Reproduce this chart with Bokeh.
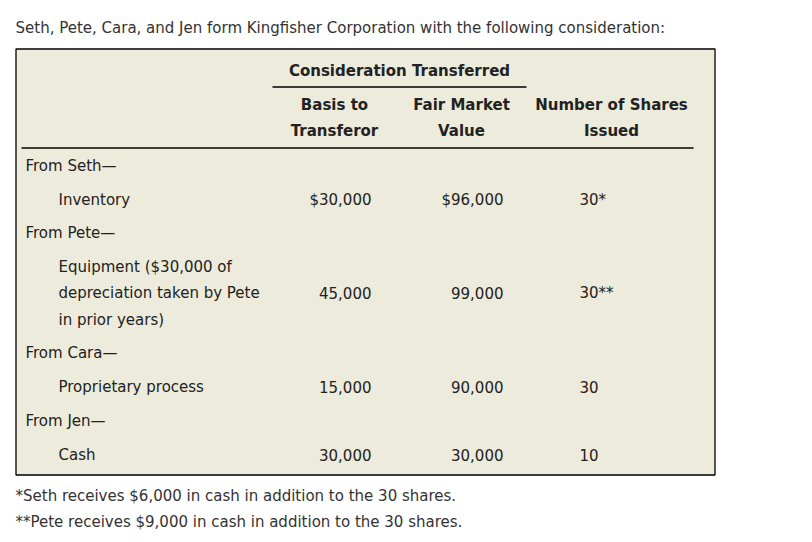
from bokeh.plotting import figure
from bokeh.models import ColumnDataSource, Range1d
from bokeh.core.properties import value
from bokeh.embed import file_html
from bokeh.resources import INLINE

title = "Seth, Pete, Cara, and Jen form Kingfisher Corporation with the following consideration:"
group_header = "Consideration Transferred"
col_headers_1 = ["Basis to", "Fair Market", "Number of Shares"]
col_headers_2 = ["Transferor", "Value", "Issued"]
persons = ["From Seth\u2014", "From Pete\u2014", "From Cara\u2014", "From Jen\u2014"]
assets = [["Inventory"],
          ["Equipment ($30,000 of", "depreciation taken by Pete", "in prior years)"],
          ["Proprietary process"],
          ["Cash"]]
basis = ["$30,000", "45,000", "15,000", "30,000"]
fmv = ["$96,000", "99,000", "90,000", "30,000"]
shares = ["30*", "30**", "30", "10"]
footnotes = ["*Seth receives $6,000 in cash in addition to the 30 shares.",
             "**Pete receives $9,000 in cash in addition to the 30 shares."]

W, H = 796, 536
p = figure(width=W, height=H, output_backend="svg", toolbar_location=None,
           x_range=Range1d(0, W), y_range=Range1d(H, 0),
           min_border=0, outline_line_color=None)
p.axis.visible = False
p.grid.visible = False
p.background_fill_color = "white"
p.border_fill_color = "white"

FONT = value("DejaVu Sans")
FS = "15px"
TXT = "#222222"

# table box
p.quad(left=[15.5], right=[714.5], top=[48.5], bottom=[474.5],
       fill_color="#EDEBDB", line_color="black", line_width=1.3)
# rules
p.segment(x0=[272, 21], y0=[86.5, 147.5], x1=[526, 693], y1=[86.5, 147.5],
          line_color="black", line_width=1.3)

def txt(xs, ys, ts, align="left", bold=False, color=TXT):
    src = ColumnDataSource(dict(x=xs, y=ys, t=ts))
    p.text(x="x", y="y", text="t", source=src, text_font=FONT,
           text_font_size=FS, text_align=align, text_baseline="middle",
           text_color=color, text_font_style="bold" if bold else "normal")

txt([15], [27], [title], color="#333333")
txt([399], [70], [group_header], align="center", bold=True)
hx = [334, 461, 611]
txt(hx, [104] * 3, col_headers_1, align="center", bold=True)
txt(hx, [130] * 3, col_headers_2, align="center", bold=True)

person_y = [165, 232, 352, 420]
value_y = [199, 292, 386, 454]
asset_y0 = [199, 266, 386, 454]
txt([25] * 4, person_y, persons)
ax, ay, at = [], [], []
for lines, y0 in zip(assets, asset_y0):
    for i, l in enumerate(lines):
        ax.append(58); ay.append(y0 + i * 26.5); at.append(l)
txt(ax, ay, at)
txt([371] * 4, value_y, basis, align="right")
txt([503] * 4, value_y, fmv, align="right")
txt([579] * 4, value_y, shares)
txt([15, 15], [495, 521], footnotes, color="#333333")

open("out.html", "w").write(file_html(p, INLINE))
